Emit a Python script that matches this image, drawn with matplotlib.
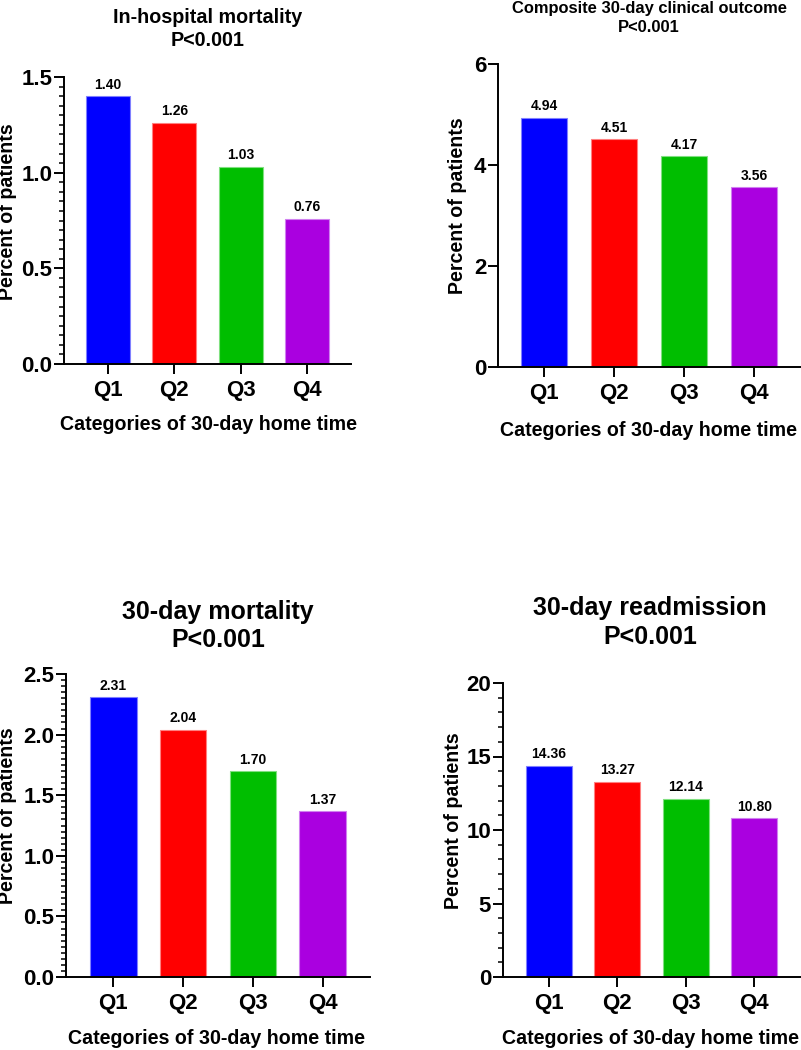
import matplotlib
matplotlib.use("Agg")
import matplotlib.pyplot as plt
from matplotlib.ticker import MultipleLocator, NullLocator, FuncFormatter
import numpy as np

plt.rcParams['font.family'] = ['Liberation Sans', 'DejaVu Sans']
plt.rcParams['font.weight'] = 'bold'

categories = ["Q1", "Q2", "Q3", "Q4"]
colors = ["#0000FF", "#FF0000", "#00BE00", "#AA00E0"]
edge_colors = ["#8080FF", "#FF8080", "#80E080", "#D080F0"]

inhosp_mort = [1.40, 1.26, 1.03, 0.76]
composite = [4.94, 4.51, 4.17, 3.56]
mort30 = [2.31, 2.04, 1.70, 1.37]
readm30 = [14.36, 13.27, 12.14, 10.80]

title_lines = [("In-hospital mortality", "P<0.001"),
               ("Composite 30-day clinical outcome", "P<0.001"),
               ("30-day mortality", "P<0.001"),
               ("30-day readmission", "P<0.001")]
ylabel = "Percent of patients"
xlabel = "Categories of 30-day home time"

W, H = 801, 1050
fig = plt.figure(figsize=(W / 100, H / 100), dpi=100)

def ax_px(x0, x1, ytop, ybot):
    return fig.add_axes([x0 / W, 1 - ybot / H, (x1 - x0) / W, (ybot - ytop) / H])

def ftext(xp, yp, s, **kw):
    return fig.text(xp / W, 1 - yp / H, s, **kw)

panels = [
    dict(rect=(64, 351, 77, 364), data=inhosp_mort, ylim=1.5, major=0.5, minor=0.05,
         fmt="{:.1f}", tsize=14.2, tbase=(23.3, 45.7), tcx=208,
         ylab=(8, 212), xlab=(208, 425), half=0.667),
    dict(rect=(498, 800, 64, 367), data=composite, ylim=6, major=2, minor=None,
         fmt="{:.0f}", tsize=11.9, tbase=(12.7, 31.7), tcx=649,
         ylab=(458, 206), xlab=(648, 430), half=0.66),
    dict(rect=(66, 370, 674, 977), data=mort30, ylim=2.5, major=0.5, minor=0.05,
         fmt="{:.1f}", tsize=18, tbase=(619.3, 647.3), tcx=218,
         ylab=(8, 816), xlab=(217, 1038), half=0.68),
    dict(rect=(503, 800, 683, 977), data=readm30, ylim=20, major=5, minor=1,
         fmt="{:.0f}", tsize=18, tbase=(615, 644), tcx=650,
         ylab=(453, 821), xlab=(650, 1038), half=0.67),
]

for i, p in enumerate(panels):
    x0, x1, yt, yb = p["rect"]
    ax = ax_px(x0, x1, yt, yb)
    x = np.arange(len(categories))
    ax.bar(x, p["data"], width=0.667, color=colors, edgecolor=edge_colors,
           linewidth=0.8, zorder=2)
    for xi, v in zip(x, p["data"]):
        ax.annotate(f"{v:.2f}", (xi, v), xytext=(0, 3.2), textcoords="offset points",
                    ha="center", va="bottom", fontsize=10, fontweight="bold")
    ax.set_xlim(-p["half"], len(categories) - 1 + p["half"])
    ax.set_ylim(0, p["ylim"])
    ax.yaxis.set_major_locator(MultipleLocator(p["major"]))
    ax.yaxis.set_major_formatter(FuncFormatter(lambda v, pos, f=p["fmt"]: f.format(v)))
    if p["minor"]:
        ax.yaxis.set_minor_locator(MultipleLocator(p["minor"]))
    else:
        ax.yaxis.set_minor_locator(NullLocator())
    ax.set_xticks(x)
    ax.set_xticklabels(categories)
    for s in ["top", "right"]:
        ax.spines[s].set_visible(False)
    for s in ["left", "bottom"]:
        ax.spines[s].set_linewidth(1.4)
    ax.tick_params(axis="both", which="major", length=7.5, width=1.4,
                   labelsize=16)
    ax.tick_params(axis="y", which="major", pad=1)
    ax.tick_params(axis="y", which="minor", length=3.8, width=1.1)
    ax.tick_params(axis="x", which="major", pad=4)
    ftext(p["ylab"][0], p["ylab"][1], ylabel, rotation=90, ha="center", va="center",
          fontsize=14.1, fontweight="bold")
    ftext(p["xlab"][0], p["xlab"][1], xlabel, ha="center", va="center",
          fontsize=14.1, fontweight="bold")
    for line, yb_ in zip(title_lines[i], p["tbase"]):
        ftext(p["tcx"], yb_, line, ha="center", va="baseline",
              fontsize=p["tsize"], fontweight="bold")

fig.savefig("out.png", dpi=100)
